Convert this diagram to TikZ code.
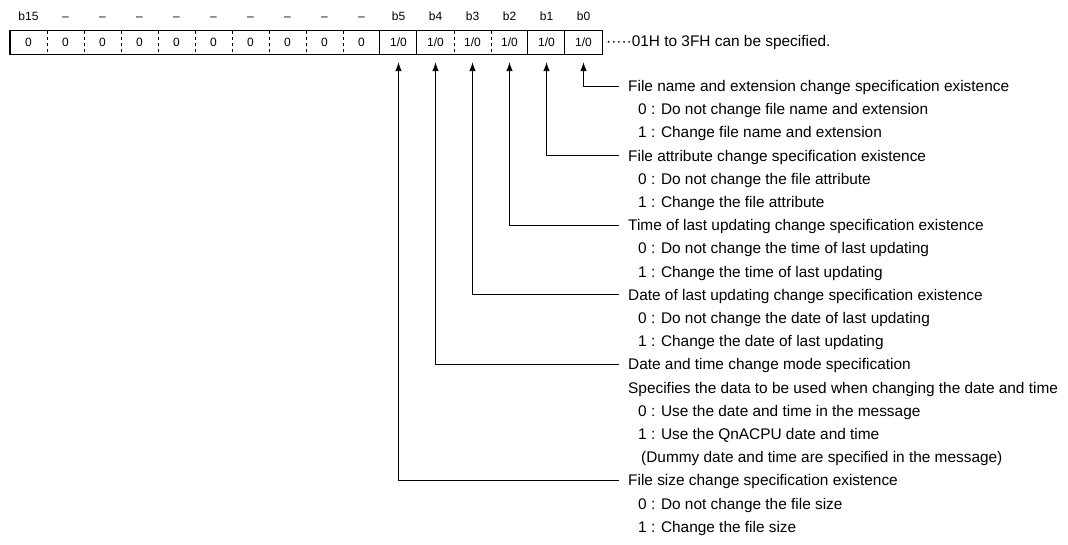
\documentclass[tikz,border=0pt]{standalone}
\usepackage{fontspec}
\setmainfont{Liberation Sans}
\usetikzlibrary{arrows.meta, positioning}

\begin{document}
\begin{tikzpicture}[x=1pt, y=-1pt,
    cell/.style={minimum width=37pt, minimum height=23pt, inner sep=0pt, font=\fontsize{12}{14}\selectfont},
    bitlbl/.style={inner sep=0pt, text height=9pt, text depth=0pt, font=\fontsize{12}{14}\selectfont},
    desc/.style={anchor=west, inner sep=0pt, text height=11pt, text depth=0pt, font=\fontsize{15.4}{18}\selectfont},
    arr/.style={line width=0.9pt, -{Latex[length=9pt, width=6.5pt]}},
    sep/.style={dash pattern=on 3pt off 3pt}]
    \useasboundingbox (0,0) rectangle (1068,545);
    \foreach \k in {15,...,6} \node[cell] (c\k) at ({28.5+37*(15-\k)},42.5) {0};
    \foreach \k in {5,...,0} \node[cell] (c\k) at ({28.5+37*(15-\k)},42.5) {1/0};
    \node[bitlbl, above=10pt of c15] (l15) {b15};
    \foreach \k in {14,...,6} \node[bitlbl, above=10pt of c\k] (l\k) {--};
    \foreach \k in {5,...,0} \node[bitlbl, above=10pt of c\k] (l\k) {b\k};
    \draw[line width=0.9pt] (c15.north west) rectangle (c0.south east);
    \draw[line width=1.8pt] (c15.north west) -- (c15.south west);
    \foreach \k in {14,...,6,3,2} \draw[sep] (c\k.north west) -- (c\k.south west);
    \foreach \k in {5,4,1,0} \draw[line width=0.9pt] (c\k.north west) -- (c\k.south west);
    \node[desc] (spec) at (606,41) {·····01H to 3FH can be specified.};
    \node[desc] (d0) at (628,86) {File name and extension change specification existence};
    \node[desc] (d0a) at (638,{86+23.2*1}) {0 : Do not change file name and extension};
    \node[desc] (d0b) at (638,{86+23.2*2}) {1 : Change file name and extension};
    \node[desc] (d1) at (628,{86+23.2*3}) {File attribute change specification existence};
    \node[desc] (d1a) at (638,{86+23.2*4}) {0 : Do not change the file attribute};
    \node[desc] (d1b) at (638,{86+23.2*5}) {1 : Change the file attribute};
    \node[desc] (d2) at (628,{86+23.2*6}) {Time of last updating change specification existence};
    \node[desc] (d2a) at (638,{86+23.2*7}) {0 : Do not change the time of last updating};
    \node[desc] (d2b) at (638,{86+23.2*8}) {1 : Change the time of last updating};
    \node[desc] (d3) at (628,{86+23.2*9}) {Date of last updating change specification existence};
    \node[desc] (d3a) at (638,{86+23.2*10}) {0 : Do not change the date of last updating};
    \node[desc] (d3b) at (638,{86+23.2*11}) {1 : Change the date of last updating};
    \node[desc] (d4) at (628,{86+23.2*12}) {Date and time change mode specification};
    \node[desc] (d4s) at (628,{86+23.2*13}) {Specifies the data to be used when changing the date and time};
    \node[desc] (d4a) at (638,{86+23.2*14}) {0 : Use the date and time in the message};
    \node[desc] (d4b) at (638,{86+23.2*15}) {1 : Use the QnACPU date and time};
    \node[desc] (d4c) at (641,{86+23.2*16}) {(Dummy date and time are specified in the message)};
    \node[desc] (d5) at (628,{86+23.2*17}) {File size change specification existence};
    \node[desc] (d5a) at (638,{86+23.2*18}) {0 : Do not change the file size};
    \node[desc] (d5b) at (638,{86+23.2*19}) {1 : Change the file size};
    \foreach \k in {0,...,5} \draw[arr] ([xshift=-9pt]d\k.west) -| ([yshift=-8pt]c\k.south);
\end{tikzpicture}
\end{document}
